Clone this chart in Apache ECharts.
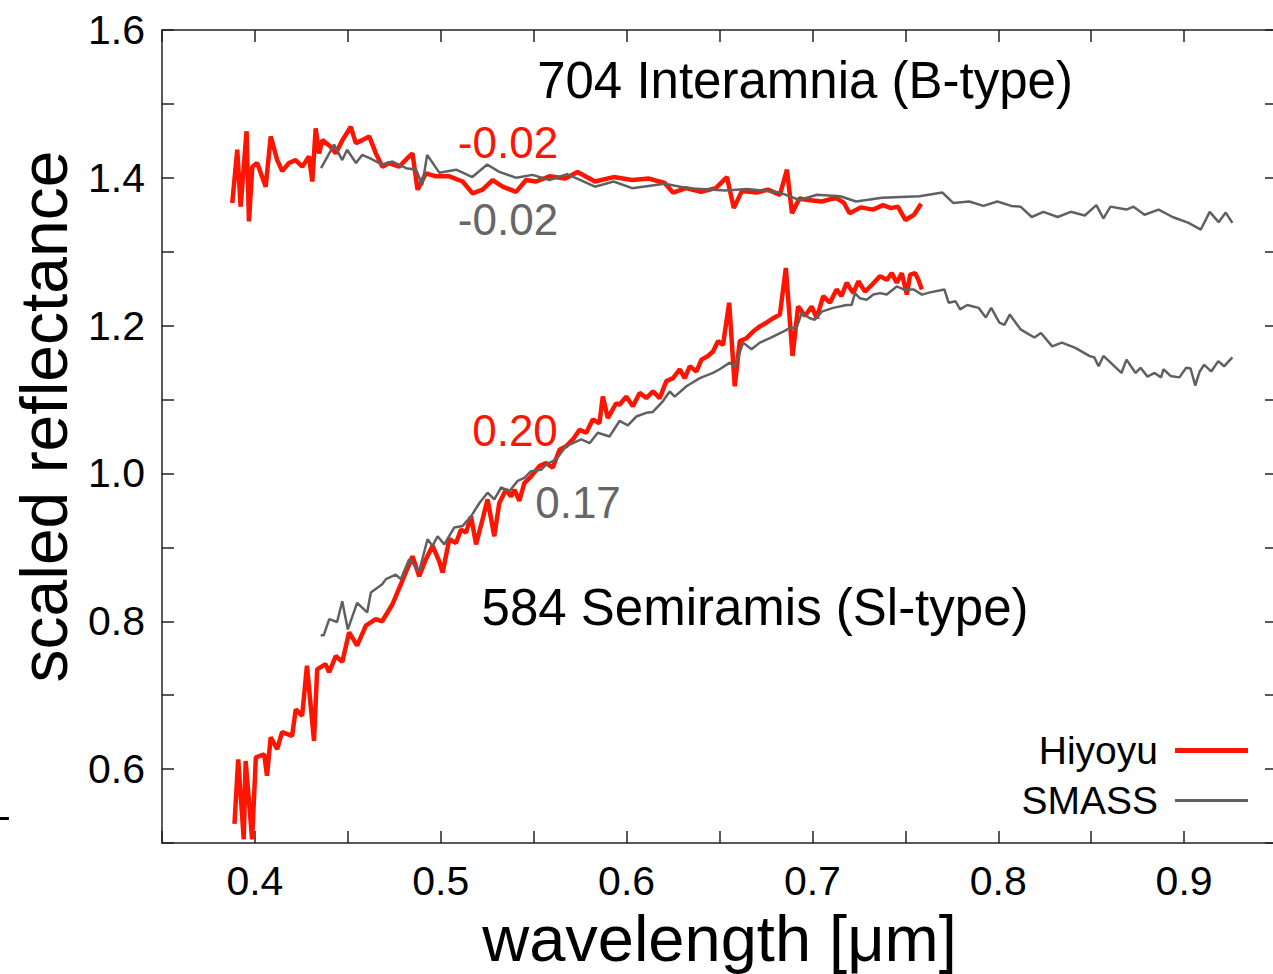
<!DOCTYPE html>
<html>
<head>
<meta charset="utf-8">
<script src="https://cdn.jsdelivr.net/npm/echarts@6/dist/echarts.min.js"></script>
<style>
html, body { margin: 0; padding: 0; background: #fff; }
#chart { width: 1273px; height: 974px; }
</style>
</head>
<body>
<div id="chart"></div>
<script>
// 704 Interamnia - Hiyoyu
const hiyoyuInteramnia = [
  [0.3878, 1.366], [0.3905, 1.438], [0.3923, 1.361], [0.3955, 1.463], [0.3968, 1.341],
  [0.3986, 1.415], [0.4012, 1.420], [0.4058, 1.388], [0.4085, 1.456], [0.4120, 1.424],
  [0.4147, 1.409], [0.4183, 1.420], [0.4219, 1.424], [0.4255, 1.415], [0.4291, 1.429],
  [0.4309, 1.395], [0.4327, 1.467], [0.4345, 1.433], [0.4363, 1.451], [0.4408, 1.442],
  [0.4435, 1.433], [0.4471, 1.451], [0.4516, 1.469], [0.4543, 1.447], [0.4578, 1.451],
  [0.4615, 1.456], [0.4651, 1.433], [0.4686, 1.415], [0.4722, 1.420], [0.4776, 1.415],
  [0.4830, 1.429], [0.4848, 1.433], [0.4875, 1.384], [0.4920, 1.406], [0.4974, 1.402],
  [0.5046, 1.402], [0.5118, 1.395], [0.5171, 1.379], [0.5225, 1.384], [0.5279, 1.397],
  [0.5333, 1.388], [0.5405, 1.381], [0.5459, 1.397], [0.5513, 1.395], [0.5585, 1.402],
  [0.5670, 1.399], [0.5736, 1.408], [0.5830, 1.395], [0.5930, 1.401], [0.6030, 1.397],
  [0.6120, 1.399], [0.6205, 1.393], [0.6250, 1.380], [0.6320, 1.386], [0.6400, 1.381],
  [0.6480, 1.386], [0.6540, 1.401], [0.6577, 1.359], [0.6620, 1.382], [0.6700, 1.380],
  [0.6760, 1.384], [0.6825, 1.377], [0.6863, 1.411], [0.6890, 1.352], [0.6930, 1.372],
  [0.6975, 1.370], [0.7050, 1.368], [0.7127, 1.373], [0.7170, 1.366], [0.7200, 1.352],
  [0.7260, 1.360], [0.7326, 1.357], [0.7380, 1.363], [0.7423, 1.359], [0.7460, 1.361],
  [0.7500, 1.343], [0.7547, 1.350], [0.7585, 1.365]
];

// 704 Interamnia - SMASS
const smassInteramnia = [
  [0.4356, 1.413], [0.4426, 1.445], [0.4470, 1.424], [0.4496, 1.438], [0.4544, 1.420],
  [0.4577, 1.431], [0.4615, 1.427], [0.4685, 1.418], [0.4740, 1.422], [0.4814, 1.413],
  [0.4868, 1.411], [0.4900, 1.390], [0.4927, 1.431], [0.4992, 1.407], [0.5083, 1.411],
  [0.5170, 1.401], [0.5250, 1.418], [0.5315, 1.408], [0.5407, 1.400], [0.5493, 1.404],
  [0.5585, 1.397], [0.5680, 1.405], [0.5830, 1.388], [0.5930, 1.395], [0.6030, 1.386],
  [0.6205, 1.392], [0.6330, 1.386], [0.6530, 1.383], [0.6650, 1.385], [0.6825, 1.380],
  [0.6930, 1.370], [0.7025, 1.377], [0.7150, 1.375], [0.7235, 1.368], [0.7375, 1.373],
  [0.7575, 1.375], [0.7700, 1.380], [0.7757, 1.366], [0.7844, 1.368], [0.7920, 1.362],
  [0.7995, 1.368], [0.8070, 1.362], [0.8120, 1.361], [0.8180, 1.347], [0.8243, 1.354],
  [0.8320, 1.347], [0.8390, 1.354], [0.8466, 1.349], [0.8528, 1.363], [0.8566, 1.345],
  [0.8604, 1.361], [0.8690, 1.357], [0.8728, 1.361], [0.8787, 1.350], [0.8863, 1.357],
  [0.8938, 1.347], [0.9024, 1.339], [0.9090, 1.330], [0.9138, 1.354], [0.9186, 1.340],
  [0.9224, 1.353], [0.9260, 1.339]
];

// 584 Semiramis - Hiyoyu
const hiyoyuSemiramis = [
  [0.3890, 0.526], [0.3910, 0.613], [0.3940, 0.505], [0.3950, 0.611], [0.3985, 0.505],
  [0.4005, 0.616], [0.4050, 0.620], [0.4065, 0.591], [0.4085, 0.643], [0.4120, 0.627],
  [0.4146, 0.650], [0.4200, 0.645], [0.4220, 0.681], [0.4254, 0.672], [0.4280, 0.740],
  [0.4318, 0.638], [0.4335, 0.735], [0.4380, 0.742], [0.4400, 0.731], [0.4435, 0.753],
  [0.4470, 0.745], [0.4507, 0.785], [0.4550, 0.767], [0.4597, 0.794], [0.4650, 0.803],
  [0.4685, 0.800], [0.4740, 0.823], [0.4812, 0.866], [0.4848, 0.888], [0.4884, 0.861],
  [0.4920, 0.884], [0.4956, 0.902], [0.4992, 0.881], [0.5010, 0.866], [0.5046, 0.911],
  [0.5082, 0.906], [0.5109, 0.924], [0.5136, 0.920], [0.5163, 0.942], [0.5190, 0.904],
  [0.5225, 0.938], [0.5252, 0.965], [0.5288, 0.915], [0.5315, 0.960], [0.5351, 0.978],
  [0.5378, 0.969], [0.5396, 0.978], [0.5423, 0.963], [0.5450, 0.987], [0.5486, 0.996],
  [0.5531, 1.010], [0.5567, 1.014], [0.5603, 1.008], [0.5639, 1.032], [0.5675, 1.037],
  [0.5711, 1.046], [0.5747, 1.059], [0.5783, 1.055], [0.5818, 1.073], [0.5854, 1.068],
  [0.5872, 1.104], [0.5899, 1.075], [0.5944, 1.095], [0.5962, 1.093], [0.5998, 1.104],
  [0.6034, 1.091], [0.6070, 1.109], [0.6106, 1.102], [0.6142, 1.111], [0.6178, 1.102],
  [0.6214, 1.125], [0.6250, 1.129], [0.6286, 1.141], [0.6313, 1.129], [0.6340, 1.145],
  [0.6376, 1.138], [0.6403, 1.154], [0.6438, 1.159], [0.6465, 1.165], [0.6492, 1.179],
  [0.6519, 1.174], [0.6552, 1.231], [0.6582, 1.118], [0.6609, 1.179], [0.6645, 1.183],
  [0.6681, 1.192], [0.6717, 1.199], [0.6753, 1.204], [0.6789, 1.210], [0.6825, 1.215],
  [0.6857, 1.278], [0.6893, 1.159], [0.6923, 1.226], [0.6960, 1.213], [0.6996, 1.226],
  [0.7023, 1.210], [0.7058, 1.240], [0.7094, 1.231], [0.7130, 1.249], [0.7157, 1.240],
  [0.7184, 1.258], [0.7220, 1.244], [0.7247, 1.260], [0.7283, 1.246], [0.7319, 1.255],
  [0.7364, 1.267], [0.7400, 1.262], [0.7427, 1.271], [0.7454, 1.258], [0.7481, 1.271],
  [0.7508, 1.242], [0.7526, 1.269], [0.7553, 1.271], [0.7570, 1.262], [0.7589, 1.249]
];

// 584 Semiramis - SMASS
const smassSemiramis = [
  [0.4354, 0.781], [0.4370, 0.781], [0.4400, 0.803], [0.4442, 0.799], [0.4470, 0.827],
  [0.4500, 0.789], [0.4550, 0.825], [0.4604, 0.812], [0.4624, 0.839], [0.4685, 0.850],
  [0.4705, 0.857], [0.4758, 0.863], [0.4785, 0.857], [0.4830, 0.884], [0.4884, 0.868],
  [0.4929, 0.911], [0.4956, 0.902], [0.4983, 0.915], [0.5019, 0.904], [0.5073, 0.927],
  [0.5118, 0.929], [0.5163, 0.942], [0.5208, 0.960], [0.5252, 0.974], [0.5288, 0.965],
  [0.5325, 0.981], [0.5369, 0.976], [0.5414, 0.990], [0.5450, 0.994], [0.5486, 1.003],
  [0.5540, 1.005], [0.5567, 1.012], [0.5621, 1.019], [0.5675, 1.037], [0.5711, 1.041],
  [0.5756, 1.046], [0.5801, 1.041], [0.5845, 1.055], [0.5908, 1.050], [0.5962, 1.071],
  [0.6007, 1.065], [0.6052, 1.077], [0.6106, 1.082], [0.6140, 1.083], [0.6196, 1.098],
  [0.6232, 1.111], [0.6259, 1.104], [0.6322, 1.118], [0.6394, 1.129], [0.6465, 1.136],
  [0.6501, 1.141], [0.6555, 1.150], [0.6582, 1.144], [0.6627, 1.177], [0.6672, 1.168],
  [0.6717, 1.177], [0.6771, 1.183], [0.6843, 1.192], [0.6879, 1.197], [0.6915, 1.197],
  [0.6942, 1.217], [0.6987, 1.210], [0.7013, 1.208], [0.7050, 1.219], [0.7112, 1.224],
  [0.7184, 1.228], [0.7211, 1.228], [0.7229, 1.244], [0.7256, 1.237], [0.7292, 1.235],
  [0.7328, 1.242], [0.7364, 1.244], [0.7400, 1.242], [0.7454, 1.253], [0.7490, 1.249],
  [0.7544, 1.249], [0.7589, 1.242], [0.7633, 1.245], [0.7710, 1.249], [0.7733, 1.231],
  [0.7770, 1.233], [0.7795, 1.222], [0.7833, 1.228], [0.7895, 1.224], [0.7933, 1.211],
  [0.7962, 1.224], [0.8006, 1.204], [0.8033, 1.201], [0.8062, 1.215], [0.8120, 1.195],
  [0.8194, 1.184], [0.8230, 1.190], [0.8290, 1.172], [0.8342, 1.177], [0.8415, 1.170],
  [0.8490, 1.159], [0.8517, 1.157], [0.8540, 1.145], [0.8566, 1.159], [0.8663, 1.136],
  [0.8690, 1.154], [0.8739, 1.136], [0.8766, 1.143], [0.8803, 1.131], [0.8841, 1.136],
  [0.8876, 1.130], [0.8889, 1.141], [0.8927, 1.132], [0.8975, 1.130], [0.9011, 1.143],
  [0.9035, 1.142], [0.9060, 1.119], [0.9084, 1.138], [0.9108, 1.147], [0.9146, 1.138],
  [0.9184, 1.152], [0.9215, 1.145], [0.9260, 1.157]
];

const xLabels = ['0.4', '0.5', '0.6', '0.7', '0.8', '0.9'];
const yLabels = ['0.6', '0.8', '1.0', '1.2', '1.4', '1.6'];

const RED = '#ff1400';
const GREY = '#606060';
const FONT = 'Liberation Sans, Arial, sans-serif';

let chartDom = document.getElementById('chart');
let chart = echarts.init(chartDom, null, { renderer: 'svg' });

function pickLabel(list) {
  return function (v) {
    let s = v.toFixed(1);
    return (Math.abs(v - Number(s)) < 1e-6 && list.includes(s)) ? s : '';
  };
}

const axisLine = { lineStyle: { color: '#222', width: 1.5 } };
const axisTick = { inside: true, length: 12, lineStyle: { color: '#222', width: 1.5 } };

let option = {
  animation: false,
  backgroundColor: '#fff',
  grid: { left: 162, top: 30, right: -4, height: 813, outerBoundsMode: 'none' },
  xAxis: [
    {
      type: 'value', min: 0.35, max: 0.95, interval: 0.05, position: 'bottom',
      axisLine: axisLine, axisTick: axisTick, splitLine: { show: false },
      axisLabel: { formatter: pickLabel(xLabels), fontSize: 41, color: '#000', margin: 17, fontFamily: FONT },
      name: 'wavelength [μm]', nameLocation: 'middle', nameGap: 51,
      nameTextStyle: { fontSize: 65, color: '#000', fontFamily: FONT }
    },
    {
      type: 'value', min: 0.35, max: 0.95, interval: 0.05, position: 'top',
      axisLine: axisLine, axisTick: axisTick, splitLine: { show: false },
      axisLabel: { show: false }
    }
  ],
  yAxis: [
    {
      type: 'value', min: 0.5, max: 1.6, interval: 0.1, position: 'left',
      axisLine: { show: true, lineStyle: axisLine.lineStyle }, axisTick: axisTick, splitLine: { show: false },
      axisLabel: { formatter: pickLabel(yLabels), fontSize: 41, color: '#000', margin: 17, fontFamily: FONT },
      name: 'scaled reflectance', nameLocation: 'middle', nameRotate: 90, nameGap: 82,
      nameTextStyle: { fontSize: 66, color: '#000', fontFamily: FONT, padding: [0, 0, 0, 40] }
    },
    {
      type: 'value', min: 0.5, max: 1.6, interval: 0.1, position: 'right',
      axisLine: { show: true, lineStyle: axisLine.lineStyle }, axisTick: axisTick, splitLine: { show: false },
      axisLabel: { show: false }
    }
  ],
  legend: [
    {
      data: ['Hiyoyu'], right: 25, top: 731, padding: 0, align: 'right', icon: 'rect',
      itemWidth: 73, itemHeight: 5, selectedMode: false,
      textStyle: { fontSize: 39, color: '#000', fontFamily: FONT, padding: [0, 12, 0, 0] }
    },
    {
      data: ['SMASS'], right: 25, top: 781, padding: 0, align: 'right', icon: 'rect',
      itemWidth: 73, itemHeight: 3, selectedMode: false,
      textStyle: { fontSize: 39, color: '#000', fontFamily: FONT, padding: [0, 12, 0, 0] }
    }
  ],
  graphic: [
    { type: 'text', x: 805, y: 80, style: { text: '704 Interamnia (B-type)', fontSize: 51, fontFamily: FONT, fill: '#000', align: 'center', verticalAlign: 'middle' } },
    { type: 'text', x: 508, y: 142, style: { text: '-0.02', fontSize: 44, fontFamily: FONT, fill: RED, align: 'center', verticalAlign: 'middle' } },
    { type: 'text', x: 508, y: 219, style: { text: '-0.02', fontSize: 44, fontFamily: FONT, fill: '#666', align: 'center', verticalAlign: 'middle' } },
    { type: 'text', x: 515, y: 430, style: { text: '0.20', fontSize: 44, fontFamily: FONT, fill: RED, align: 'center', verticalAlign: 'middle' } },
    { type: 'text', x: 578, y: 502, style: { text: '0.17', fontSize: 44, fontFamily: FONT, fill: '#666', align: 'center', verticalAlign: 'middle' } },
    { type: 'text', x: 755, y: 607, style: { text: '584 Semiramis (Sl-type)', fontSize: 51, fontFamily: FONT, fill: '#000', align: 'center', verticalAlign: 'middle' } },
    { type: 'rect', shape: { x: 0, y: 817, width: 9, height: 3 }, style: { fill: '#000' } }
  ],
  series: [
    { name: 'Hiyoyu', type: 'line', data: hiyoyuInteramnia, showSymbol: false, itemStyle: { color: RED }, lineStyle: { color: RED, width: 4.5 } },
    { name: 'Hiyoyu', type: 'line', data: hiyoyuSemiramis, showSymbol: false, itemStyle: { color: RED }, lineStyle: { color: RED, width: 4.5 } },
    { name: 'SMASS', type: 'line', data: smassInteramnia, showSymbol: false, itemStyle: { color: GREY }, lineStyle: { color: GREY, width: 2.5 } },
    { name: 'SMASS', type: 'line', data: smassSemiramis, showSymbol: false, itemStyle: { color: GREY }, lineStyle: { color: GREY, width: 2.5 } }
  ]
};

chart.setOption(option);
window.addEventListener('resize', () => {
  chart.resize();
});
</script>
</body>
</html>
